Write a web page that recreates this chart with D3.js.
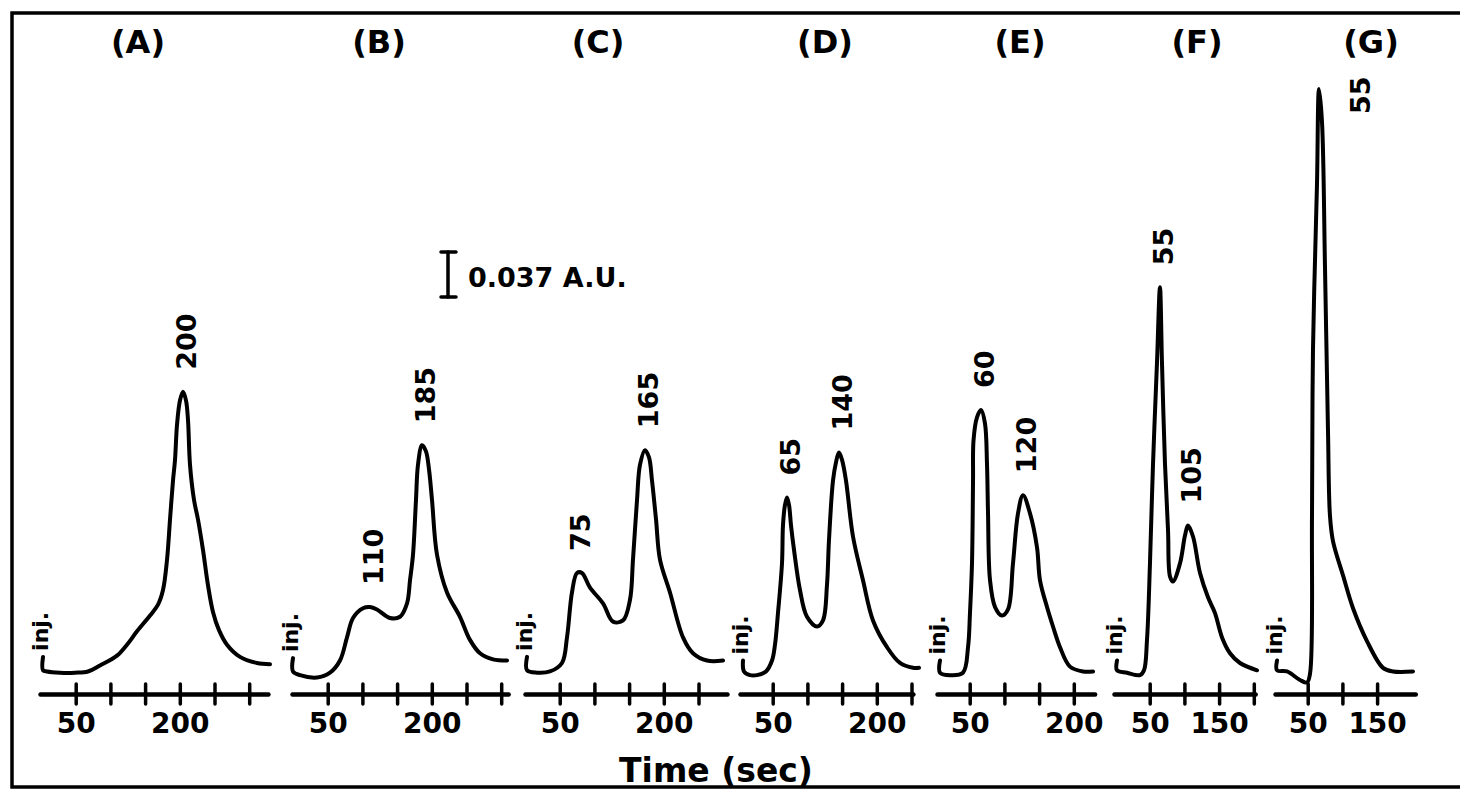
<!DOCTYPE html>
<html><head><meta charset="utf-8">
<script src="https://cdn.jsdelivr.net/npm/d3@7/dist/d3.min.js"></script>
<style>
body{margin:0;background:#fff;overflow:hidden}
svg{display:block}
text{font-family:"DejaVu Sans",sans-serif;font-weight:bold;fill:#000}
</style>
</head><body>
<svg id="chart" width="1460" height="789"></svg>
<script>
// ---------------- DATA ----------------
const panelNames = ["(A)","(B)","(C)","(D)","(E)","(F)","(G)"];
// traces: [time (s), absorbance (mAU)]
const traceA = [[2.9,19],[2.9,8],[8.6,7],[27.4,6],[49,6],[67.7,7],[85,12],[109.5,20],[123.9,29],[138.3,40],[157.1,53],[168.6,62],[175.8,74],[181.6,99],[185.9,132],[190.2,164],[193.1,181],[196,210],[200.3,230],[204.6,237],[208.9,230],[211.8,214],[214.7,177],[220.5,148],[226.2,132],[233.4,107],[240.6,78],[247.8,56],[256.5,41],[268,29],[286.7,19],[311.2,14],[330,13]];
const traceB = [[0,18],[0,7],[10.1,4],[34.6,2],[53.3,6],[67.7,16],[77.8,35],[86.5,51],[100.9,59],[111,60],[121,58],[139.8,51],[154.2,52],[164.3,63],[168.6,82],[172.9,103],[177.2,148],[180.1,177],[185.9,193],[191.6,188],[196,173],[200.3,148],[207.5,103],[221.9,72],[240.6,52],[255,33],[269.5,22],[288.2,17],[308.4,16]];
const traceC = [[2.9,19],[2.9,8],[17.3,6],[36,7],[53.3,14],[60.5,35],[67.7,72],[74.9,88],[82.1,88],[93.7,76],[112.4,63],[126.8,48],[141.2,49],[151.3,66],[155.6,99],[161.4,148],[165.7,177],[172.9,189],[178.7,183],[183,164],[188.8,132],[194.5,99],[208.9,72],[227.7,35],[242.1,22],[262.2,16],[285.3,16]];
const traceD = [[7.2,16],[8.6,7],[17.3,4],[27.4,4],[40.3,7],[49,16],[53.3,29],[57.6,55],[63.4,96],[64.8,127],[67.7,144],[70.6,150],[73.5,144],[76.4,127],[80.7,107],[89.3,74],[99.4,52],[113.8,44],[122.5,49],[128.2,78],[131.1,115],[136.9,164],[141.2,179],[145.5,187],[149.9,181],[155.6,164],[165.7,118],[180.1,82],[194.5,49],[214.7,27],[233.4,14],[252.2,10],[260.8,10]];
const traceE = [[7.2,16],[7.2,6],[21.6,4],[40.3,6],[47.6,27],[50.4,55],[53.3,96],[54.8,164],[55.5,197],[60.5,216],[66.3,222],[72,211],[74.9,178],[76.4,137],[79.3,82],[86.5,60],[96.5,53],[105.2,58],[112.4,96],[119.6,137],[126.8,152],[136.9,137],[147,109],[151.3,82],[161.4,60],[170,44],[180.1,27],[194.5,11],[213.3,7],[227.7,7]];
const traceF = [[2.9,16],[2.9,8],[17.3,6],[36,4],[41.8,8],[46.1,33],[50.4,96],[54.8,178],[60.5,261],[64.8,323],[67.7,261],[72,178],[76.4,123],[79.3,85],[83.6,81],[93.7,96],[100.9,119],[105.2,127],[112.4,118],[122.5,88],[134,68],[144.1,55],[154.2,35],[165.7,22],[180.1,14],[204.6,8]];
const traceG = [[5.8,16],[5.8,8],[20.2,7],[38.9,0],[49,-2],[53.3,5],[56.2,135],[57.6,271],[63.4,408],[66.3,486],[70.6,459],[74.9,340],[79.3,203],[82.1,135],[86.5,114],[100.9,86],[115.3,59],[135.4,32],[158.5,10],[172.9,7],[201.7,7]];
const traces = [traceA, traceB, traceC, traceD, traceE, traceF, traceG];

const peakLabels = [[200],[110,185],[75,165],[65,140],[60,120],[55,105],[55]];
const axisExtents = [[-1.4,327],[-1.4,310],[0,291],[2.9,252],[2.9,230],[-1.4,202],[2.9,205]];
const tickValues = [[50,100,150,200,250,300],[50,100,150,200,250,300],[50,100,150,200,250],[50,100,150,200,250],[50,100,150,200],[50,100,150,200],[50,100,150]];
const tickLabels = [[50,200],[50,200],[50,200],[50,200],[50,200],[50,150],[50,150]];
const scaleBarValue = 37;            // mAU
const scaleBarLabel = "0.037 A.U.";
const xTitle = "Time (sec)";
const injLabel = "inj.";

// ---------------- LAYOUT ----------------
const origins = [41, 293, 525, 738, 935, 1115, 1273];   // x pixel of t = 0 per panel
const titleX  = [138, 379, 598, 825, 1020, 1197, 1371];
const pxPerSec = 0.694;
const axisY = 694;

const svg = d3.select("#chart");
svg.append("rect").attr("x", 12).attr("y", 13).attr("width", 1520).attr("height", 774)
  .attr("fill", "none").attr("stroke", "#000").attr("stroke-width", 3.5);

const y = d3.scaleLinear().domain([0, 500]).range([680, 72]);

const line = d3.line().curve(d3.curveCatmullRom.alpha(0.5));

traces.forEach((tr, i) => {
  const ext = axisExtents[i];
  const x = d3.scaleLinear().domain(ext).range(ext.map(t => origins[i] + pxPerSec * t));
  const g = svg.append("g");

  // panel title
  g.append("text").attr("x", titleX[i]).attr("y", 53).attr("text-anchor", "middle")
    .attr("font-size", 32).text(panelNames[i]);

  // axis
  const ax = g.append("g").attr("transform", `translate(0,${axisY})`)
    .call(d3.axisBottom(x).tickValues(tickValues[i]).tickSizeOuter(0).tickSizeInner(10)
      .tickFormat(d => tickLabels[i].includes(d) ? d : ""));
  ax.select(".domain").attr("stroke", "#000").attr("stroke-width", 4.5).attr("stroke-linecap", "round");
  ax.selectAll(".tick line").attr("y1", -10).attr("y2", 10).attr("stroke", "#000")
    .attr("stroke-width", 3.5).attr("stroke-linecap", "round");
  ax.selectAll(".tick text").attr("y", 39).attr("dy", null).attr("font-size", 28)
    .attr("font-family", "DejaVu Sans").attr("font-weight", "bold").attr("fill", "#000");

  // trace
  g.append("path").attr("d", line(tr.map(p => [x(p[0]), y(p[1])])))
    .attr("fill", "none").attr("stroke", "#000").attr("stroke-width", 4)
    .attr("stroke-linejoin", "round").attr("stroke-linecap", "round");

  // injection label
  const x0 = x(tr[0][0]);
  g.append("text").attr("transform", `translate(${x0 - 1},${y(tr[0][1]) - 6}) rotate(-90)`)
    .attr("dy", "0.28em").attr("font-size", 22).text(injLabel);

  // peak labels
  peakLabels[i].forEach(lbl => {
    const win = tr.filter(p => Math.abs(p[0] - lbl) <= 20);
    const pk = win.reduce((a, b) => b[1] > a[1] ? b : a);
    const px = x(pk[0]), py = y(pk[1]);
    const isTop = (i === 6);
    const tx = isTop ? px + 41 : px + 3;
    const ty = isTop ? py + 25 : py - 22;
    g.append("text").attr("transform", `translate(${tx},${ty}) rotate(-90)`)
      .attr("dy", "0.36em").attr("font-size", 27).text(lbl);
  });
});

// scale bar
const barLen = y(0) - y(scaleBarValue);
const sb = svg.append("g").attr("stroke", "#000").attr("stroke-width", 3.5).attr("stroke-linecap", "round");
sb.append("line").attr("x1", 448).attr("x2", 448).attr("y1", 297 - barLen).attr("y2", 297);
sb.append("line").attr("x1", 441).attr("x2", 456).attr("y1", 297 - barLen).attr("y2", 297 - barLen);
sb.append("line").attr("x1", 441).attr("x2", 456).attr("y1", 297).attr("y2", 297);
svg.append("text").attr("x", 468).attr("y", 287).attr("font-size", 27).text(scaleBarLabel);

// x title
svg.append("text").attr("x", 716).attr("y", 782).attr("text-anchor", "middle")
  .attr("font-size", 33).text(xTitle);
</script>
</body></html>
